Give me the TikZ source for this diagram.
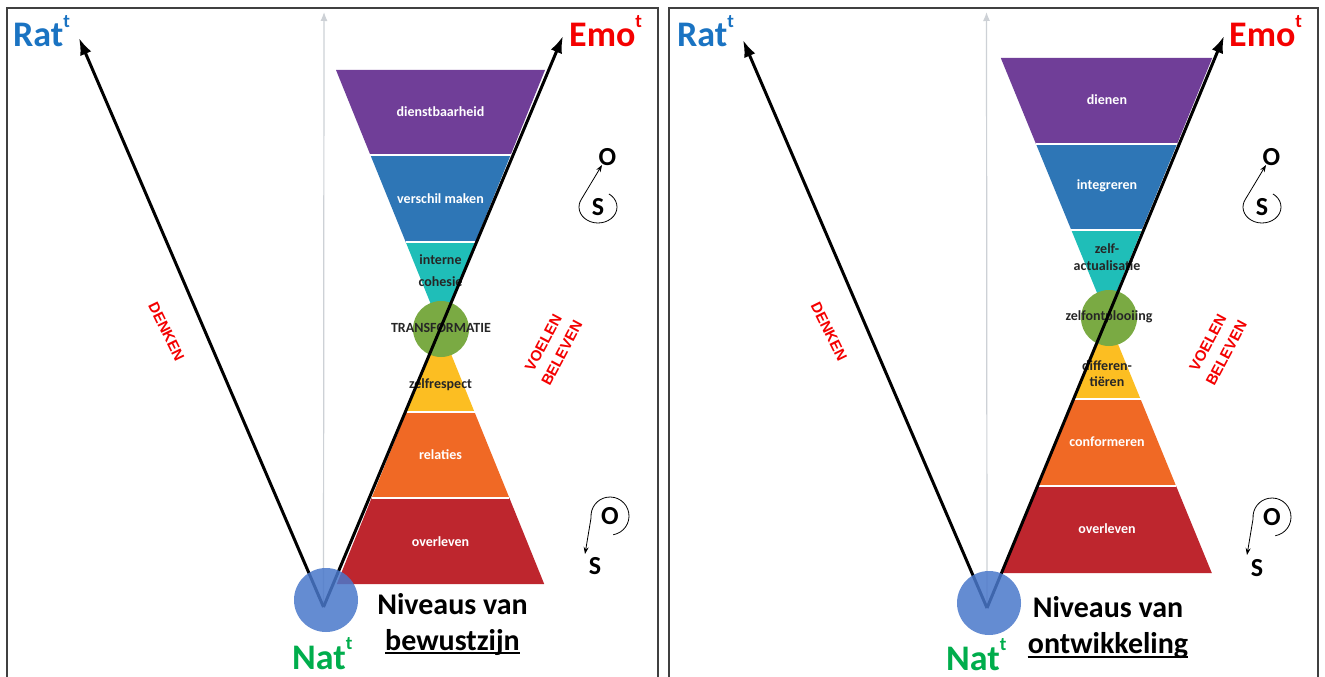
\documentclass[tikz,border=0pt]{standalone}
\usepackage{fontspec}
\setmainfont{Carlito}
\newfontfamily\arialf{Liberation Sans}
\usetikzlibrary{arrows.meta,calc}
\definecolor{cpurple}{HTML}{703E98}
\definecolor{cblue}{HTML}{2E76B6}
\definecolor{cteal}{HTML}{1FBEB8}
\definecolor{cgreen}{HTML}{7AAA43}
\definecolor{cyellow}{HTML}{FCBE22}
\definecolor{corange}{HTML}{F06925}
\definecolor{cred}{HTML}{BE262E}
\definecolor{cnat}{HTML}{4A78CB}
\definecolor{ratblue}{HTML}{1A73C2}
\definecolor{emored}{HTML}{F40000}
\definecolor{natgreen}{HTML}{00AD4C}
\definecolor{axisgray}{HTML}{CDD1D6}
\newcommand\mysupt{\raisebox{0.55em}{\fontsize{19}{19}\selectfont t}}
\begin{document}
\begin{tikzpicture}[x=1pt,y=-1pt,
  panel/.style={draw=black!75, line width=1.2pt},
  axisline/.style={draw=axisgray, line width=1.2pt, -{Latex[length=9pt,width=7pt]}},
  bigarrow/.style={draw=black, line width=3pt, -{Latex[length=17pt,width=12pt]}},
  sepline/.style={draw=white, line width=1.5pt},
  curl/.style={draw=black, line width=0.8pt, -{Stealth[length=7pt,width=5pt]}},
  bigfont/.style={font=\fontsize{36}{36}\selectfont\bfseries, inner sep=0pt},
  niv/.style={font=\fontsize{30}{30}\selectfont\bfseries, inner sep=0pt, anchor=base},
  wlab/.style={font=\fontsize{14}{16}\selectfont\bfseries, text=white, inner sep=0pt, align=center},
  dlab/.style={font=\fontsize{14}{16}\selectfont\bfseries, text=black!85, inner sep=0pt, align=center},
  redlab/.style={font=\arialf\fontsize{15}{21}\selectfont\bfseries, text=emored, inner sep=0pt, align=center},
  osf/.style={font=\fontsize{26}{26}\selectfont\bfseries, inner sep=0pt},
  greenc/.style={circle, fill=cgreen, minimum size=56pt, inner sep=0pt},
  natc/.style={circle, fill=cnat, fill opacity=0.85, minimum size=64pt, inner sep=0pt}]
\useasboundingbox (0,0) rectangle (1325,677);
\fill[white] (0,0) rectangle (1325,677);
% panel borders
\draw[panel] (7,700) -- (7,8) -- (658,8) -- (658,700);
\draw[panel] (669,700) -- (669,8) -- (1318,8) -- (1318,700);

% ================= LEFT PANEL =================
\coordinate (vL) at (323.5,607);
\coordinate (axL) at (324,12);
\draw[axisline] (vL) -- (axL);
% hourglass
\fill[cpurple] (336,70) -- (545,70) -- (510.6,155) -- (370.4,155) -- cycle;
\fill[cblue] (370.4,155) -- (510.6,155) -- (475.3,242) -- (405.7,242) -- cycle;
\fill[cteal] (405.7,242) -- (475.3,242) -- (440.5,328) -- cycle;
\fill[cyellow] (440.5,328) -- (474.5,412) -- (406.5,412) -- cycle;
\fill[corange] (406.5,412) -- (474.5,412) -- (509.4,498) -- (371.6,498) -- cycle;
\fill[cred] (371.6,498) -- (509.4,498) -- (544.2,584) -- (336.8,584) -- cycle;
\draw[sepline] (370.4,155) -- (510.6,155);
\draw[sepline] (405.7,242) -- (475.3,242);
\draw[sepline] (406.5,412) -- (474.5,412);
\draw[sepline] (371.6,498) -- (509.4,498);
\node[greenc] (gL) at (441,329) {};
\node[wlab] (l1) at (440.5,112) {dienstbaarheid};
\node[wlab] (l2) at (440.5,199) {verschil maken};
\node[dlab] (l3) at (440.5,270.5) {interne\\[6pt]cohesie};
\node[dlab] (l4) at (441,328) {TRANSFORMATIE};
\node[dlab] (l5) at (440.5,385) {zelfrespect};
\node[wlab] (l6) at (440.5,455) {relaties};
\node[wlab] (l7) at (440.5,542) {overleven};
% arrows
\coordinate (ratLt) at (79,38);
\coordinate (emoLt) at (563,36);
\draw[bigarrow] (vL) -- (ratLt);
\draw[bigarrow] (vL) -- (emoLt);
\node[natc] (nL) at (326,600) {};
% big labels
\node[bigfont, anchor=base west, text=ratblue] (ratL) at (13,47) {Rat\mysupt};
\node[bigfont, anchor=base west, text=emored] (emoL) at (569,47) {Emo\mysupt};
\node[bigfont, anchor=base west, text=natgreen] (natL) at (292,669) {Nat\mysupt};
\node[niv] (nv1L) at (452.5,614) {Niveaus van};
\node[niv] (nv2L) at (452.5,650) {bewustzijn};
\draw[line width=2pt] ([yshift=-3pt]nv2L.base west) -- ([yshift=-3pt]nv2L.base east);
\node[redlab, rotate=-64] (dkL) at (166.5,331.5) {DENKEN};
\node[redlab, rotate=62] (vbL) at (552.5,348) {VOELEN\\BELEVEN};
% O / S
\node[osf] (oL1) at (607.5,157) {O};
\node[osf] (sL1) at (598,207) {S};
\coordinate (tipL1) at (602,165);
\draw[curl] ($(sL1)+(-55:19 and 16)$) arc[start angle=-55, end angle=210, x radius=19, y radius=16] -- (tipL1);
\node[osf] (oL2) at (610,516) {O};
\node[osf] (sL2) at (595,566) {S};
\coordinate (tipL2) at (585,554);
\draw[curl] ($(oL2)+(80:19)$) arc[start angle=80, end angle=-185, radius=19] -- (tipL2);

% ================= RIGHT PANEL =================
\coordinate (vR) at (987,608);
\coordinate (axR) at (986.5,12);
\draw[axisline] (vR) -- (axR);
\fill[cpurple] (1000.8,58) -- (1212.2,58) -- (1177,144) -- (1036,144) -- cycle;
\fill[cblue] (1036,144) -- (1177,144) -- (1141.7,230) -- (1071.3,230) -- cycle;
\fill[cteal] (1071.3,230) -- (1141.7,230) -- (1106.5,316) -- cycle;
\fill[cyellow] (1106.5,316) -- (1140.5,399) -- (1072.5,399) -- cycle;
\fill[corange] (1072.5,399) -- (1140.5,399) -- (1176.1,486) -- (1036.9,486) -- cycle;
\fill[cred] (1036.9,486) -- (1176.1,486) -- (1211.8,573) -- (1001.2,573) -- cycle;
\draw[sepline] (1036,144) -- (1177,144);
\draw[sepline] (1071.3,230) -- (1141.7,230);
\draw[sepline] (1072.5,399) -- (1140.5,399);
\draw[sepline] (1036.9,486) -- (1176.1,486);
\node[greenc] (gR) at (1109,318) {};
\node[wlab] (r1) at (1107,100) {dienen};
\node[wlab] (r2) at (1107,186) {integreren};
\node[dlab] (r3) at (1107,257.5) {zelf-\\[1pt]actualisatie};
\node[dlab] (r4) at (1109,317) {zelfontplooiing};
\node[dlab] (r5) at (1107,373.5) {differen-\\tiëren};
\node[wlab] (r6) at (1107,442) {conformeren};
\node[wlab] (r7) at (1107,529) {overleven};
\coordinate (ratRt) at (743,40);
\coordinate (emoRt) at (1224,36);
\draw[bigarrow] (vR) -- (ratRt);
\draw[bigarrow] (vR) -- (emoRt);
\node[natc] (nR) at (989,603) {};
\node[bigfont, anchor=base west, text=ratblue] (ratR) at (677,47) {Rat\mysupt};
\node[bigfont, anchor=base west, text=emored] (emoR) at (1229,47) {Emo\mysupt};
\node[bigfont, anchor=base west, text=natgreen] (natR) at (946,670) {Nat\mysupt};
\node[niv] (nv1R) at (1108,617) {Niveaus van};
\node[niv] (nv2R) at (1108,653) {ontwikkeling};
\draw[line width=2pt] ([yshift=-4pt]nv2R.base west) -- ([yshift=-4pt]nv2R.base east);
\node[redlab, rotate=-64] (dkR) at (829,331.5) {DENKEN};
\node[redlab, rotate=62] (vbR) at (1217,348) {VOELEN\\BELEVEN};
\node[osf] (oR1) at (1271.5,157) {O};
\node[osf] (sR1) at (1262,207) {S};
\coordinate (tipR1) at (1266,165);
\draw[curl] ($(sR1)+(-55:19 and 16)$) arc[start angle=-55, end angle=210, x radius=19, y radius=16] -- (tipR1);
\node[osf] (oR2) at (1272,517) {O};
\node[osf] (sR2) at (1257,568) {S};
\coordinate (tipR2) at (1247,555);
\draw[curl] ($(oR2)+(80:19)$) arc[start angle=80, end angle=-185, radius=19] -- (tipR2);
\end{tikzpicture}
\end{document}
